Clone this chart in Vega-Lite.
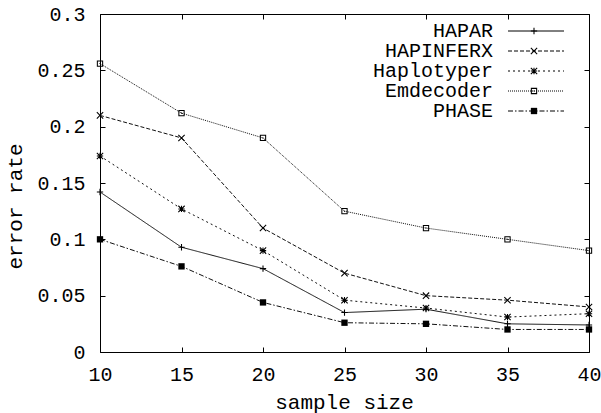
{
  "$schema": "https://vega.github.io/schema/vega-lite/v6.json",
  "width": 489,
  "height": 338,
  "autosize": "none",
  "padding": {"left": 100, "top": 14, "right": 12, "bottom": 61},
  "background": "white",
  "config": {
    "font": "Liberation Mono",
    "view": {"stroke": "#000", "strokeWidth": 1},
    "axis": {
      "domain": false,
      "ticks": false,
      "labelFlush": false,
      "labelFont": "Liberation Mono",
      "labelFontSize": 20,
      "labelColor": "#000",
      "titleFont": "Liberation Mono",
      "titleFontSize": 21,
      "titleFontWeight": "normal",
      "titleColor": "#000",
      "grid": true,
      "gridColor": "#000",
      "gridOpacity": 1,
      "gridWidth": 1
    },
    "legend": {
      "labelFont": "Liberation Mono",
      "labelFontSize": 20,
      "labelColor": "#000"
    }
  },
  "data": {
    "values": [
      {"n": 10, "series": "HAPAR", "err": 0.142},
      {"n": 15, "series": "HAPAR", "err": 0.093},
      {"n": 20, "series": "HAPAR", "err": 0.074},
      {"n": 25, "series": "HAPAR", "err": 0.035},
      {"n": 30, "series": "HAPAR", "err": 0.038},
      {"n": 35, "series": "HAPAR", "err": 0.025},
      {"n": 40, "series": "HAPAR", "err": 0.024},
      {"n": 10, "series": "HAPINFERX", "err": 0.21},
      {"n": 15, "series": "HAPINFERX", "err": 0.19},
      {"n": 20, "series": "HAPINFERX", "err": 0.11},
      {"n": 25, "series": "HAPINFERX", "err": 0.07},
      {"n": 30, "series": "HAPINFERX", "err": 0.05},
      {"n": 35, "series": "HAPINFERX", "err": 0.046},
      {"n": 40, "series": "HAPINFERX", "err": 0.04},
      {"n": 10, "series": "Haplotyper", "err": 0.174},
      {"n": 15, "series": "Haplotyper", "err": 0.127},
      {"n": 20, "series": "Haplotyper", "err": 0.09},
      {"n": 25, "series": "Haplotyper", "err": 0.046},
      {"n": 30, "series": "Haplotyper", "err": 0.039},
      {"n": 35, "series": "Haplotyper", "err": 0.031},
      {"n": 40, "series": "Haplotyper", "err": 0.034},
      {"n": 10, "series": "Emdecoder", "err": 0.256},
      {"n": 15, "series": "Emdecoder", "err": 0.212},
      {"n": 20, "series": "Emdecoder", "err": 0.19},
      {"n": 25, "series": "Emdecoder", "err": 0.125},
      {"n": 30, "series": "Emdecoder", "err": 0.11},
      {"n": 35, "series": "Emdecoder", "err": 0.1},
      {"n": 40, "series": "Emdecoder", "err": 0.09},
      {"n": 10, "series": "PHASE", "err": 0.1},
      {"n": 15, "series": "PHASE", "err": 0.076},
      {"n": 20, "series": "PHASE", "err": 0.044},
      {"n": 25, "series": "PHASE", "err": 0.026},
      {"n": 30, "series": "PHASE", "err": 0.025},
      {"n": 35, "series": "PHASE", "err": 0.02},
      {"n": 40, "series": "PHASE", "err": 0.02}
    ]
  },
  "layer": [
    {
      "mark": {"type": "line", "strokeWidth": 1, "stroke": "#111"},
      "encoding": {
        "x": {
          "field": "n", "type": "quantitative",
          "scale": {"domain": [10, 40], "nice": false, "zero": false},
          "axis": {
            "values": [10, 15, 20, 25, 30, 35, 40],
            "gridDash": [5, 328, 5, 0],
            "labelPadding": 28,
            "labelBaseline": "alphabetic",
            "title": "sample size",
            "titleX": 244,
            "titleY": 56,
            "titleBaseline": "alphabetic",
            "titleAlign": "center"
          }
        },
        "y": {
          "field": "err", "type": "quantitative",
          "scale": {"domain": [0, 0.3], "nice": false},
          "axis": {
            "values": [0, 0.05, 0.1, 0.15, 0.2, 0.25, 0.3],
            "gridDash": [5, 479, 5, 0],
            "format": "~g",
            "labelPadding": 15,
            "title": "error rate",
            "titleX": -79,
            "titleY": 192,
            "titleAngle": -90,
            "titleBaseline": "alphabetic",
            "titleAlign": "center"
          }
        },
        "strokeDash": {
          "field": "series", "type": "nominal", "sort": null,
          "scale": {
            "range": [[1, 0], [4, 2], [2, 3], [1, 1], [5, 2, 1.5, 2]]
          },
          "legend": {
            "title": null,
            "orient": "none",
            "legendX": 426,
            "legendY": 7,
            "padding": 0,
            "symbolType": "M-5.6,0H5.6",
            "symbolSize": 100,
            "symbolStrokeWidth": 1,
            "symbolStrokeColor": "#000",
            "rowPadding": 0,
            "labelAlign": "right",
            "labelOffset": -53
          }
        }
      }
    },
    {
      "mark": {"type": "point", "filled": true, "color": "#000", "strokeWidth": 0, "size": 40, "opacity": 1},
      "encoding": {
        "x": {"field": "n", "type": "quantitative"},
        "y": {"field": "err", "type": "quantitative"},
        "shape": {
          "field": "series", "type": "nominal",
          "scale": {
            "domain": ["HAPAR", "HAPINFERX", "Haplotyper", "Emdecoder", "PHASE"],
            "range": [
              "M-1,-0.17H-0.17V-1H0.17V-0.17H1V0.17H0.17V1H-0.17V0.17H-1Z",
              "M-0.88,-1.12L1.12,0.88L0.88,1.12L-1.12,-0.88ZM0.88,-1.12L1.12,-0.88L-0.88,1.12L-1.12,0.88Z",
              "M-1,-0.17H-0.17V-1H0.17V-0.17H1V0.17H0.17V1H-0.17V0.17H-1ZM-0.88,-1.12L1.12,0.88L0.88,1.12L-1.12,-0.88ZM0.88,-1.12L1.12,-0.88L-0.88,1.12L-1.12,0.88Z",
              "M-1,-1H1V1H-1ZM-0.67,-0.67V0.67H0.67V-0.67ZM-0.17,-0.17H0.17V0.17H-0.17Z",
              "M-1,-1H1V1H-1Z"
            ]
          },
          "legend": {
            "title": null,
            "orient": "none",
            "legendX": 424,
            "legendY": 7,
            "padding": 0,
            "symbolSize": 40,
            "symbolFillColor": "#000",
            "symbolStrokeWidth": 0,
            "symbolOpacity": 1,
            "rowPadding": 0,
            "labelExpr": "''"
          }
        }
      }
    }
  ]
}
